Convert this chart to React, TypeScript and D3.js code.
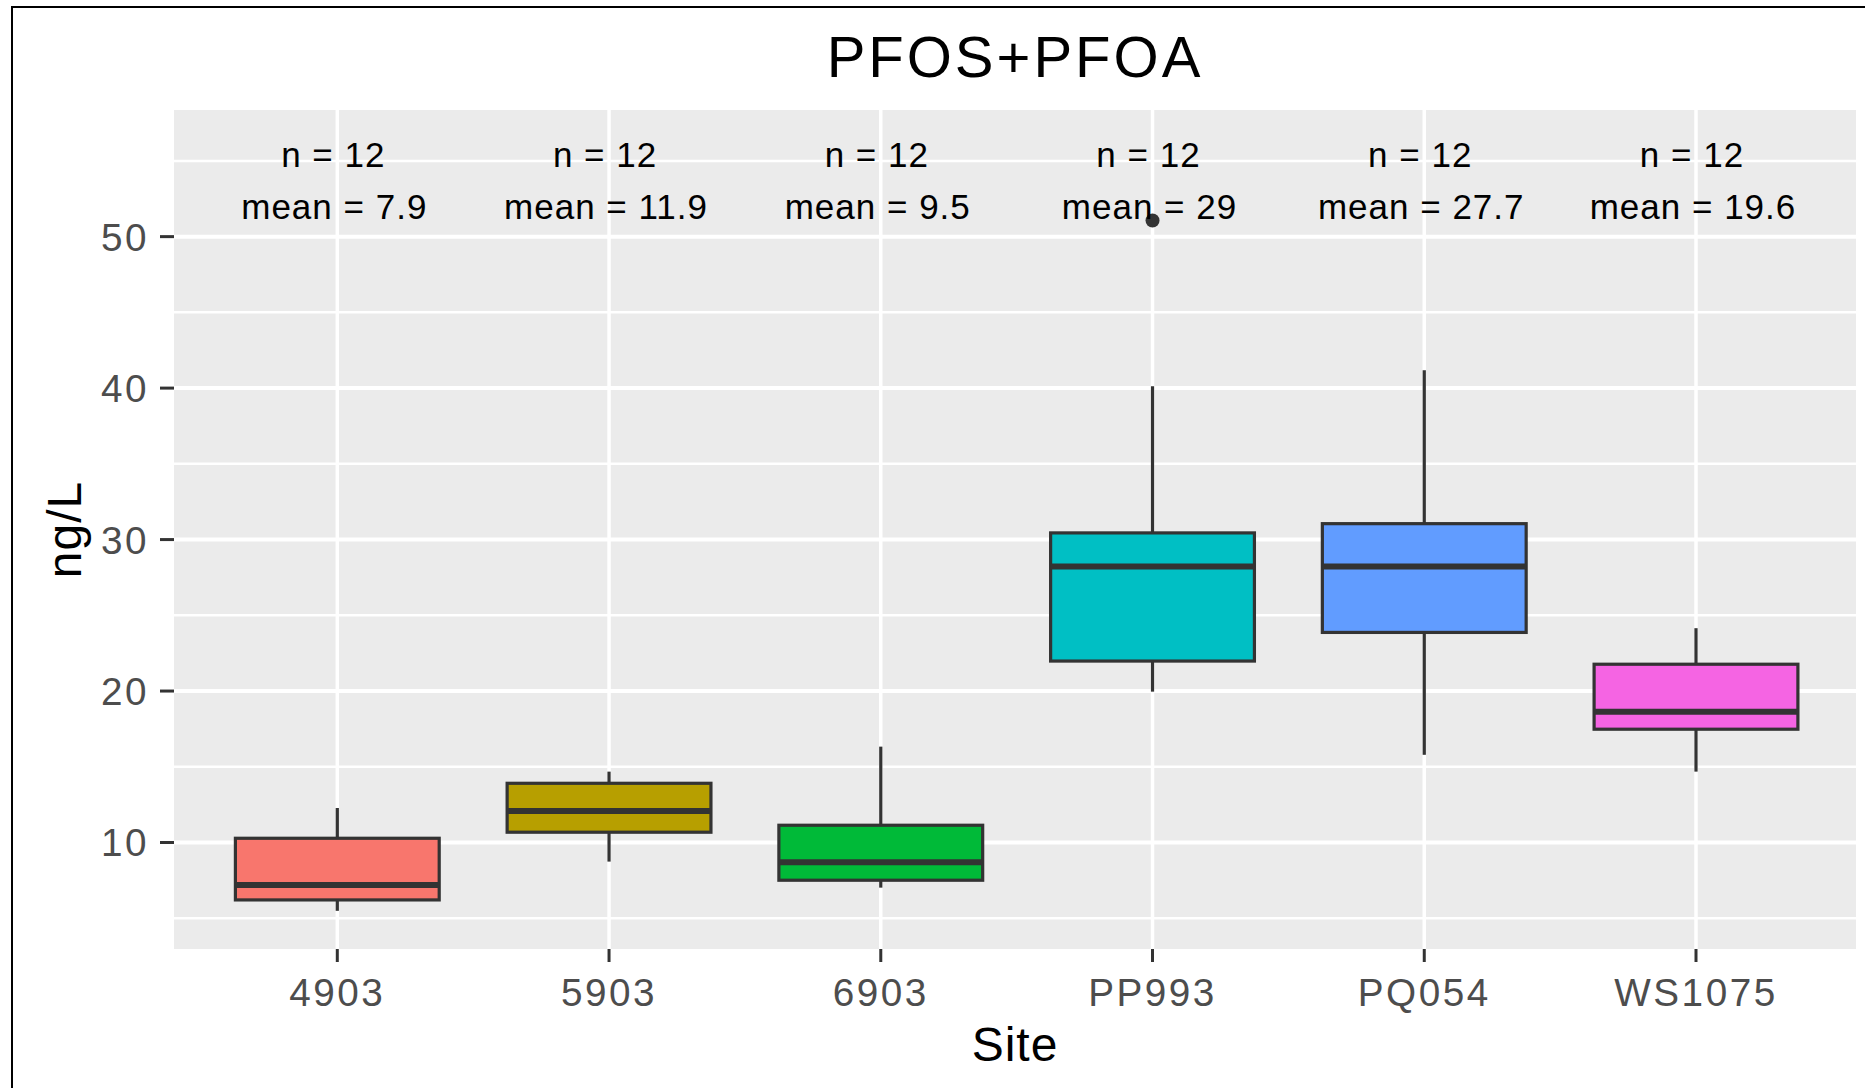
import React from 'react';
import * as d3 from 'd3';

const sites = ['4903', '5903', '6903', 'PP993', 'PQ054', 'WS1075'];
const lowerWhisker = [5.49, 8.74, 7.02, 19.96, 15.79, 14.68];
const q1 = [6.21, 10.68, 7.51, 21.98, 23.87, 17.48];
const medians = [7.2, 12.08, 8.7, 28.22, 28.22, 18.64];
const q3 = [10.28, 13.91, 11.14, 30.44, 31.05, 21.77];
const upperWhisker = [12.28, 14.68, 16.33, 40.12, 41.18, 24.15];
const outlierSites = ['PP993'];
const outlierValues = [51.06];
const counts = [12, 12, 12, 12, 12, 12];
const meanLabels = ['7.9', '11.9', '9.5', '29', '27.7', '19.6'];
const fills = ['#F8766D', '#B79F00', '#00BA38', '#00BFC4', '#619CFF', '#F564E3'];
const majorTicks = [10, 20, 30, 40, 50];
const minorTicks = [5, 15, 25, 35, 45, 55];

const W = 1865;
const H = 1088;
const panel = { left: 174, right: 1856, top: 110, bottom: 949 };
const FONT = '"Liberation Sans", Arial, Helvetica, sans-serif';

export default function App() {
  const x = d3.scaleLinear().domain([1, 6]).range([337.3, 1696]);
  const y = d3.scaleLinear().domain([2.97, 58.36]).range([panel.bottom, panel.top]);
  const bw = x(1.75) - x(1);
  const pos = (i: number) => x(i + 1);

  return (
    <svg width={W} height={H} style={{ position: 'absolute', left: 0, top: 0 }} fontFamily={FONT}>
      <rect x={0} y={0} width={W} height={H} fill="#ffffff" />
      {/* frame */}
      <line x1={12} x2={12} y1={6} y2={H} stroke="#000" strokeWidth={2} />
      <line x1={11} x2={W} y1={7} y2={7} stroke="#000" strokeWidth={2} />

      {/* title */}
      <text x={(panel.left + panel.right) / 2} y={77} textAnchor="middle" fontSize={58} letterSpacing={3} fill="#000">
        PFOS+PFOA
      </text>

      {/* panel */}
      <rect x={panel.left} y={panel.top} width={panel.right - panel.left} height={panel.bottom - panel.top} fill="#EBEBEB" />
      {minorTicks.map((t) => (
        <line key={'mn' + t} x1={panel.left} x2={panel.right} y1={y(t)} y2={y(t)} stroke="#fff" strokeWidth={2.5} />
      ))}
      {majorTicks.map((t) => (
        <line key={'mj' + t} x1={panel.left} x2={panel.right} y1={y(t)} y2={y(t)} stroke="#fff" strokeWidth={4} />
      ))}
      {sites.map((s, i) => (
        <line key={'vg' + s} x1={pos(i)} x2={pos(i)} y1={panel.top} y2={panel.bottom} stroke="#fff" strokeWidth={3.5} />
      ))}

      {/* boxes */}
      {sites.map((s, i) => {
        const cx = pos(i);
        return (
          <g key={'box' + s}>
            <line x1={cx} x2={cx} y1={y(q3[i])} y2={y(upperWhisker[i])} stroke="#333333" strokeWidth={3.2} />
            <line x1={cx} x2={cx} y1={y(q1[i])} y2={y(lowerWhisker[i])} stroke="#333333" strokeWidth={3.2} />
            <rect
              x={cx - bw / 2}
              y={y(q3[i])}
              width={bw}
              height={y(q1[i]) - y(q3[i])}
              fill={fills[i]}
              stroke="#333333"
              strokeWidth={3.2}
            />
            <line x1={cx - bw / 2} x2={cx + bw / 2} y1={y(medians[i])} y2={y(medians[i])} stroke="#333333" strokeWidth={6} />
          </g>
        );
      })}
      {outlierSites.map((s, k) => (
        <circle key={'out' + k} cx={pos(sites.indexOf(s))} cy={y(outlierValues[k])} r={7} fill="#333333" />
      ))}

      {/* annotations */}
      {sites.map((s, i) => (
        <g key={'ann' + s} fontSize={35} letterSpacing={1} fill="#000" textAnchor="middle">
          <text x={pos(i) - 4} y={y(55.4)} dominantBaseline="central">{`n = ${counts[i]}`}</text>
          <text x={pos(i) - 3} y={y(52)} dominantBaseline="central">{`mean = ${meanLabels[i]}`}</text>
        </g>
      ))}

      {/* y axis */}
      {majorTicks.map((t) => (
        <g key={'yt' + t}>
          <line x1={160} x2={panel.left} y1={y(t)} y2={y(t)} stroke="#333333" strokeWidth={3} />
          <text x={149} y={y(t)} dy="0.36em" textAnchor="end" fontSize={38.7} letterSpacing={2.5} fill="#4D4D4D">
            {t}
          </text>
        </g>
      ))}
      {/* x axis */}
      {sites.map((s, i) => (
        <g key={'xt' + s}>
          <line x1={pos(i)} x2={pos(i)} y1={panel.bottom} y2={panel.bottom + 13} stroke="#333333" strokeWidth={3} />
          <text x={pos(i)} y={1006} textAnchor="middle" fontSize={38.7} letterSpacing={2.5} fill="#4D4D4D">
            {s}
          </text>
        </g>
      ))}

      {/* axis titles */}
      <text x={(panel.left + panel.right) / 2} y={1061} textAnchor="middle" fontSize={48} letterSpacing={1} fill="#000">
        Site
      </text>
      <text
        transform={`translate(${81}, ${(panel.top + panel.bottom) / 2}) rotate(-90)`}
        textAnchor="middle"
        fontSize={48}
        letterSpacing={1}
        fill="#000"
      >
        ng/L
      </text>
    </svg>
  );
}
